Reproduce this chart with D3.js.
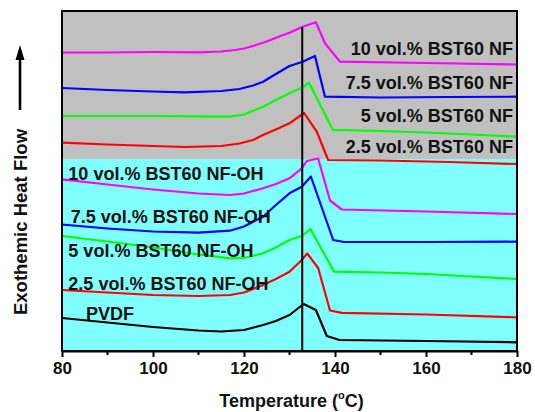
<!DOCTYPE html>
<html>
<head>
<meta charset="utf-8">
<script src="https://cdn.jsdelivr.net/npm/d3@7"></script>
<style>
  html, body { margin: 0; padding: 0; background: #fff; }
  svg text { font-family: "Liberation Sans", Arial, sans-serif; font-weight: bold; fill: #111; }
</style>
</head>
<body>
<svg id="chart" width="535" height="412"></svg>
<script>
// DSC cooling curves, heat flow in arbitrary units (offset per sample)
const xTicks = [80, 100, 120, 140, 160, 180];
const xMinorTicks = [90, 110, 130, 150, 170];

const nf10 = [[80,298.5],[90,298.5],[100,299],[110,298.7],[115,299.5],[118,301],[120,302.5],[122,305],[125,309.5],[128,315],[130,318.3],[132.9,324.3],[135.8,328.7],[137.8,307.7],[141.1,289.3],[160,288],[180,286.5]];
const nf75 = [[80,263],[90,261],[100,259.5],[107,258.7],[115,260],[119,262],[122,265.5],[124.2,269.3],[127,277],[130,285],[132.9,289.3],[135.6,295],[137.8,254.3],[150,253.5],[165,254],[180,254.3]];
const nf5 = [[80,235],[100,235],[110,234.7],[116.9,234.3],[120,236.5],[124.2,244.3],[127,251],[130,257.7],[132.9,263.7],[134.3,268.3],[139.5,221.2],[150,220],[160,218.5],[170,216.5],[180,214.3]];
const nf25 = [[80,208.3],[90,206.5],[100,205],[107,204],[115,205],[119,207.5],[122,211],[124.2,216],[127,221.5],[130,227.7],[133.2,238],[136,219.3],[138.5,191],[150,190.5],[165,189],[180,187]];
const oh10 = [[80,171.7],[90,166.5],[100,161.5],[110,157.5],[116.9,156],[120,157.5],[124.2,162.7],[127,167],[130,172.7],[132.7,182.7],[133.8,190],[136.3,192.5],[138.9,150.5],[141.5,141.5],[160,139.5],[180,137]];
const oh75 = [[80,126.5],[90,122.5],[100,119.5],[110,118.3],[116.9,120.3],[120,124.5],[124.2,134.3],[127,146],[130,157.7],[132.7,164.3],[134.7,174.5],[139.6,111],[142,109],[160,109],[180,109.3]];
const oh5 = [[80,115],[90,109.5],[100,103.5],[110,96.5],[117,92.7],[120,93],[124.2,97.7],[127,103.5],[130,111],[132.7,115],[134.6,122],[139.8,79.3],[150,78.5],[160,77],[170,74.5],[180,72]];
const oh25 = [[80,61],[90,58.5],[100,56],[110,55],[117,56],[120,58.5],[124.2,66],[127,72],[130,79.3],[132.7,91],[133.9,97.5],[136.3,83],[138.9,40.5],[141.5,38.2],[160,36.5],[180,33.7]];
const pvdf = [[80,33],[90,28.5],[100,24],[110,20.5],[115,19.5],[120,21],[124.2,26],[127,30],[130,36],[133.1,47],[135.8,41],[138.2,15],[141,11],[160,10],[180,8.7]];

const seriesNames = ["10 vol.% BST60 NF", "7.5 vol.% BST60 NF", "5 vol.% BST60 NF", "2.5 vol.% BST60 NF",
  "10 vol.% BST60 NF-OH", "7.5 vol.% BST60 NF-OH", "5 vol.% BST60 NF-OH", "2.5 vol.% BST60 NF-OH", "PVDF"];
const seriesData = [nf10, nf75, nf5, nf25, oh10, oh75, oh5, oh25, pvdf];
const seriesColors = ["#ff00ff", "#0000ff", "#00ff00", "#ff0000", "#ff00ff", "#0000ff", "#00ff00", "#ff0000", "#000000"];

// label anchor points in data units [temperature, heat flow]
const labelPos = [[179.1,296],[179.1,261.7],[179.1,229.3],[179.1,198.3],[81.4,171],[81.9,128.5],[81.4,94],[81.4,61],[85.3,31.5]];
const labelAnchor = ["end","end","end","end","start","start","start","start","start"];

const crystalTemp = 132.8;   // vertical reference line
const crystalTop = 324;
const bandSplit = 192;       // grey (NF) / cyan (NF-OH) boundary
const yDomain = [0, 340];

// 布局
const width = 535, height = 412;
const margin = { top: 11, right: 18, bottom: 61, left: 62 };

const svg = d3.select("#chart");
const x = d3.scaleLinear().domain([80, 180]).range([margin.left, width - margin.right]);
const y = d3.scaleLinear().domain(yDomain).range([height - margin.bottom, margin.top]);

// 背景色块
svg.append("rect")
    .attr("x", x(80)).attr("y", y(yDomain[1]))
    .attr("width", x(180) - x(80)).attr("height", y(bandSplit) - y(yDomain[1]))
    .attr("fill", "#c0c0c0");
svg.append("rect")
    .attr("x", x(80)).attr("y", y(bandSplit))
    .attr("width", x(180) - x(80)).attr("height", y(0) - y(bandSplit))
    .attr("fill", "#80ffff");

// 曲线
const line = d3.line()
    .x(d => x(d[0]))
    .y(d => y(d[1]));

svg.append("g")
    .selectAll("path")
    .data(seriesData)
    .enter()
    .append("path")
    .attr("d", line)
    .attr("fill", "none")
    .attr("stroke", (d, i) => seriesColors[i])
    .attr("stroke-width", 2.2)
    .attr("stroke-linejoin", "round");

// 竖直参考线
svg.append("line")
    .attr("x1", x(crystalTemp)).attr("x2", x(crystalTemp))
    .attr("y1", y(crystalTop)).attr("y2", y(0))
    .attr("stroke", "#000").attr("stroke-width", 2);

// 标签
svg.append("g")
    .selectAll("text")
    .data(seriesNames)
    .enter()
    .append("text")
    .attr("x", (d, i) => x(labelPos[i][0]))
    .attr("y", (d, i) => y(labelPos[i][1]))
    .attr("text-anchor", (d, i) => labelAnchor[i])
    .style("font-size", "18px")
    .text(d => d);

// 边框
svg.append("rect")
    .attr("x", x(80)).attr("y", y(yDomain[1]))
    .attr("width", x(180) - x(80)).attr("height", y(0) - y(yDomain[1]))
    .attr("fill", "none").attr("stroke", "#000").attr("stroke-width", 2);

// x 轴
const xAxis = svg.append("g")
    .attr("transform", `translate(0,${y(0)})`)
    .call(d3.axisBottom(x).tickValues(xTicks).tickSize(6).tickSizeOuter(0).tickPadding(5));
xAxis.select(".domain").attr("stroke-width", 2);
xAxis.selectAll(".tick line").attr("stroke-width", 2);
xAxis.selectAll(".tick text")
    .style("font-size", "17px")
    .style("font-family", "'Liberation Sans', Arial, sans-serif")
    .style("font-weight", "bold")
    .attr("fill", "#111");

svg.append("g")
    .selectAll("line")
    .data(xMinorTicks)
    .enter()
    .append("line")
    .attr("x1", d => x(d)).attr("x2", d => x(d))
    .attr("y1", y(0)).attr("y2", y(0) + 4)
    .attr("stroke", "#000").attr("stroke-width", 2);

// 轴标题
const xTitle = svg.append("text")
    .attr("x", (x(80) + x(180)) / 2 + 2)
    .attr("y", 407)
    .attr("text-anchor", "middle")
    .style("font-size", "18px");
xTitle.append("tspan").text("Temperature (");
xTitle.append("tspan").attr("dy", -8).style("font-size", "11px").text("o");
xTitle.append("tspan").attr("dy", 8).text("C)");

svg.append("text")
    .attr("transform", "translate(27,222) rotate(-90)")
    .attr("text-anchor", "middle")
    .style("font-size", "18.5px")
    .text("Exothemic Heat Flow");

// 向上箭头
svg.append("line")
    .attr("x1", 20).attr("x2", 20)
    .attr("y1", 110).attr("y2", 56)
    .attr("stroke", "#000").attr("stroke-width", 2.6);
svg.append("path")
    .attr("d", "M20,45 L24.5,60 L15.5,60 Z")
    .attr("fill", "#000");
</script>
</body>
</html>
